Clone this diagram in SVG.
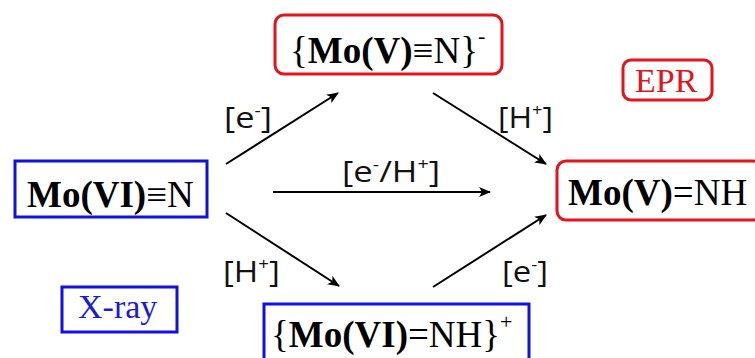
<svg xmlns="http://www.w3.org/2000/svg" width="755" height="358" viewBox="0 0 755 358">
<defs>
<marker id="ah" markerWidth="12" markerHeight="10" refX="11" refY="5" orient="auto" markerUnits="userSpaceOnUse">
<path d="M0,0 L12,5 L0,10 L3,5 Z" fill="#000"/>
</marker>
<style>
.red{fill:#fff;stroke:#e3141b;stroke-width:3}
.blue{fill:#fff;stroke:#1010e0;stroke-width:3}
.node{font-family:"Liberation Serif","Times New Roman",serif;font-size:37px;fill:#000}
.b{font-weight:bold}
.lab{font-family:"Open Sans","Liberation Sans",sans-serif;font-size:30px;fill:#111}
.sup{font-size:17px}
.conn line{stroke:#000;stroke-width:2;marker-end:url(#ah)}
</style>
</defs>
<rect width="755" height="358" fill="#fff"/>
<g class="conn" id="connectors">
<line x1="226" y1="164" x2="338" y2="93"/>
<line x1="433" y1="93" x2="546" y2="164"/>
<line x1="273" y1="192" x2="490" y2="192"/>
<line x1="226" y1="213" x2="339" y2="286"/>
<line x1="433" y1="287" x2="546" y2="215"/>
<text class="lab" x="224" y="128" textLength="48" lengthAdjust="spacingAndGlyphs">[e<tspan class="sup" dy="-12">-</tspan><tspan dy="12">]</tspan></text>
<text class="lab" x="498" y="128" textLength="55" lengthAdjust="spacingAndGlyphs">[H<tspan class="sup" dy="-12">+</tspan><tspan dy="12">]</tspan></text>
<text class="lab" x="342" y="182" textLength="98" lengthAdjust="spacingAndGlyphs">[e<tspan class="sup" dy="-12">-</tspan><tspan dy="12">/H</tspan><tspan class="sup" dy="-12">+</tspan><tspan dy="12">]</tspan></text>
<text class="lab" x="223" y="282" textLength="57" lengthAdjust="spacingAndGlyphs">[H<tspan class="sup" dy="-12">+</tspan><tspan dy="12">]</tspan></text>
<text class="lab" x="502" y="282" textLength="46" lengthAdjust="spacingAndGlyphs">[e<tspan class="sup" dy="-12">-</tspan><tspan dy="12">]</tspan></text>
</g>
<g id="top">
<rect class="red" x="275" y="15" width="227" height="59" rx="9"/>
<text class="node" x="290" y="63">{<tspan class="b">Mo(V)</tspan>≡N}<tspan font-size="22" dy="-20">-</tspan></text>
</g>
<g id="left">
<rect class="blue" x="15" y="161" width="192" height="56"/>
<text class="node" x="27" y="207"><tspan class="b">Mo(VI)</tspan>≡N</text>
</g>
<g id="right">
<rect class="red" x="557" y="161" width="205" height="59" rx="9"/>
<text class="node" x="568" y="205"><tspan class="b">Mo(V)</tspan>=NH</text>
</g>
<g id="bottom">
<rect class="blue" x="264" y="304" width="265" height="70"/>
<text class="node" x="271" y="347">{<tspan class="b">Mo(VI)</tspan>=NH}<tspan font-size="22" dy="-18">+</tspan></text>
</g>
<g id="xray">
<rect class="blue" x="62" y="287" width="115" height="45"/>
<text class="node" x="78" y="318" style="fill:#1a1ad8;font-size:34px">X-ray</text>
</g>
<g id="epr">
<rect class="red" x="623" y="60" width="89" height="40" rx="8"/>
<text class="node" x="635" y="92" style="fill:#e3141b;font-size:34px">EPR</text>
</g>
</svg>
